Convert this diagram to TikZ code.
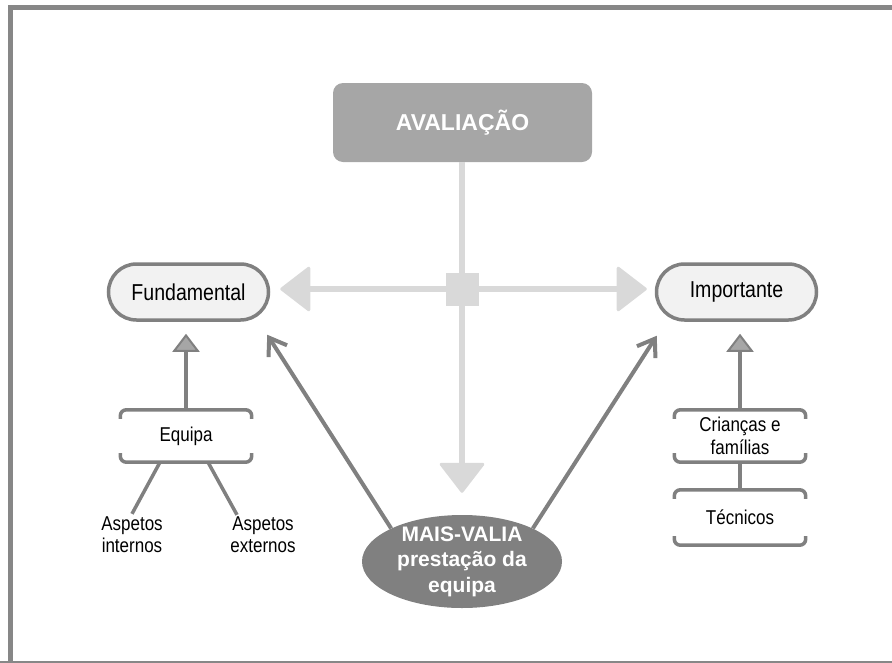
\documentclass[tikz,border=0pt]{standalone}
\usepackage{fontspec}
\setmainfont{Liberation Sans}
\newfontfamily\narrowsans[FakeStretch=0.85]{Liberation Sans}
\usetikzlibrary{arrows.meta,shapes.geometric,calc}

\definecolor{frameg}{HTML}{878787}
\definecolor{darkg}{HTML}{808080}
\definecolor{midg}{HTML}{A6A6A6}
\definecolor{lightg}{HTML}{D9D9D9}
\definecolor{pillf}{HTML}{F2F2F2}

% open-sided box: only a top and a bottom bracket with turned-down ends
\newcommand\bracketbox[1]{%
  \draw[brkline] ($(#1.north west)+(0,9)$) |- (#1.north) -| ($(#1.north east)+(0,9)$);
  \draw[brkline] ($(#1.south west)+(0,-9)$) |- (#1.south) -| ($(#1.south east)+(0,-9)$);}

\tikzset{lighttip/.tip={Triangle[length=31pt,width=47pt,round,line width=3pt]}}

\begin{document}
\begin{tikzpicture}[x=1pt,y=-1pt,
  pill/.style={draw=darkg, line width=3.5pt, fill=pillf, rounded corners=28pt,
    minimum width=160pt, minimum height=56pt, inner sep=0pt,
    font=\narrowsans\fontsize{23}{24}\selectfont},
  head/.style={fill=midg, rounded corners=10pt, minimum width=259pt,
    minimum height=79pt, inner sep=0pt, text=white,
    font=\fontsize{23}{26}\selectfont\bfseries},
  brk/.style={minimum width=131pt, inner sep=0pt, align=center,
    font=\narrowsans\fontsize{20}{23}\selectfont},
  brkline/.style={draw=darkg, line width=3.5pt, rounded corners=6pt},
  small/.style={inner sep=1pt, align=center, font=\narrowsans\fontsize{20}{22}\selectfont},
  cross/.style={draw=lightg, line width=6pt},
  uparrow/.style={draw=darkg, line width=4pt,
    -{Triangle[length=18pt,width=27pt,fill=midg,line width=2pt]}},
  diag/.style={draw=darkg, line width=4pt, -{Straight Barb[length=16pt,width=22pt]}},
  leg/.style={draw=darkg, line width=3.5pt},
]
\useasboundingbox (0,0) rectangle (892,662);

% outer frame
\draw[frameg, line width=5pt, line join=miter] (10,680) -- (10,7.5) -- (900,7.5);
\draw[frameg, line width=5pt] (0,663.5) -- (900,663.5);

% main nodes
\node[head] (aval) at (462.5,122.5) {AVALIAÇÃO};
\node[pill] (fund) at (188.5,292) {Fundamental};
\node[pill] (imp) at (736.5,292) {Importante};
\node[ellipse, fill=darkg, minimum width=200pt, minimum height=93pt, inner sep=0pt] (mv) at (462,561.5) {};
\node[text=white, align=center, inner sep=0pt,
  font=\fontsize{21}{25.5}\selectfont\bfseries] (mvtext) at (mv) {MAIS-VALIA\\prestação da\\equipa};

% bracketed boxes
\node[brk, minimum height=52pt] (equipa) at (186,436) {Equipa};
\node[brk, minimum height=52pt] (cri) at (740,436) {Crianças e\\famílias};
\node[brk, minimum height=55pt] (tec) at (740,517.5) {Técnicos};
\bracketbox{equipa}
\bracketbox{cri}
\bracketbox{tec}

\node[small] (ai) at (132,535) {Aspetos\\internos};
\node[small] (ae) at (263,535) {Aspetos\\externos};

% central cross
\coordinate (hubc) at (462,289);
\draw[cross, {lighttip}-{lighttip}, shorten <=10pt, shorten >=8pt]
  (fund.east |- hubc) -- (imp.west |- hubc);
\draw[cross, -{lighttip}, shorten >=22pt] (aval.south -| hubc) -- (mv.north -| hubc);
\node[fill=lightg, minimum size=33pt, inner sep=0pt] (hub) at (hubc) {};

% arrows
\draw[uparrow, shorten >=12pt] (equipa.north) -- (equipa.north |- fund.south);
\draw[uparrow, shorten >=12pt] (cri.north) -- (cri.north |- imp.south);
\draw[darkg, line width=4pt] (cri.south) -- (tec.north);
\draw[diag] (mv.155) -- ($(fund.south east)+(-3,13)$);
\draw[diag] (mv.25) -- ($(imp.south west)+(2,14)$);

% branches under Equipa
\draw[leg] ($(equipa.south)+(-26,0)$) -- ($(ai.north)+(0,-2)$);
\draw[leg] ($(equipa.south)+(22,0)$) -- ($(ae.north)+(-26,-1)$);
\end{tikzpicture}
\end{document}
